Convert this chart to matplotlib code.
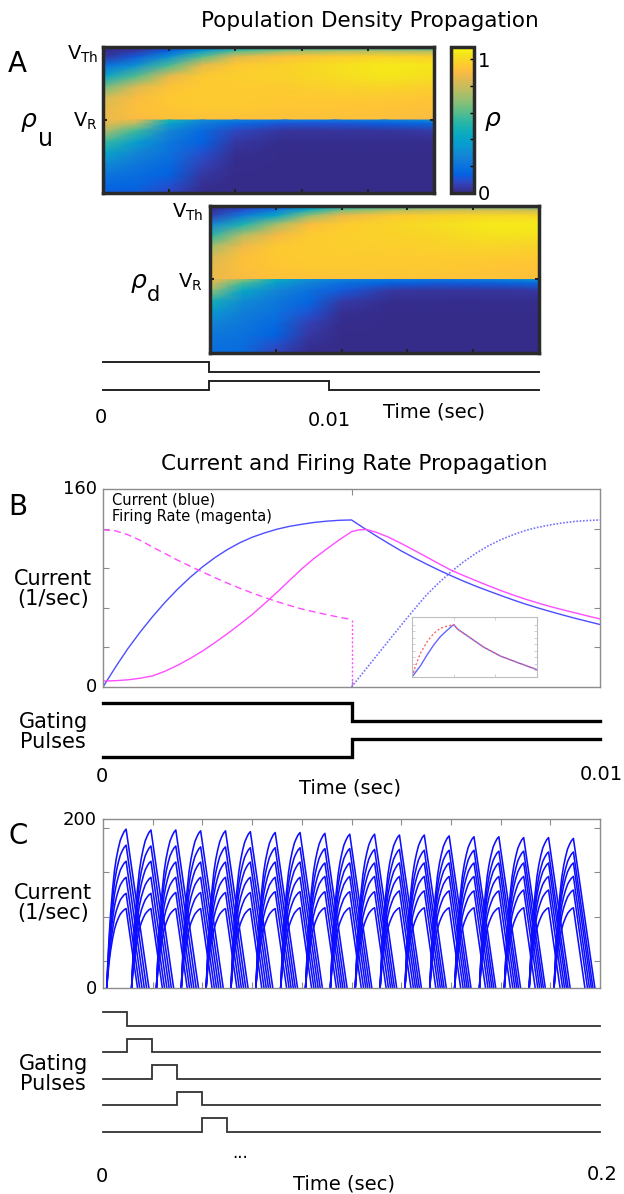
import numpy as np
import matplotlib
matplotlib.use("Agg")
import matplotlib.pyplot as plt
from matplotlib.colors import LinearSegmentedColormap

plt.rcParams["font.family"] = ["DejaVu Sans"]
plt.rcParams["mathtext.fontset"] = "dejavusans"

# ---------------- data ----------------
# parula-like colour anchors
parula_pos = [0, .032, .063, .095, .127, .19, .254, .317, .381, .444, .508, .571, .635, .698,
              .762, .825, .857, .889, .921, .952, 1.0]
parula_rgb = [(0.2081, 0.1663, 0.5292), (0.2123, 0.2138, 0.6270), (0.1959, 0.2645, 0.7279),
              (0.1253, 0.3242, 0.8303), (0.0117, 0.3875, 0.8820), (0.0498, 0.4586, 0.8641),
              (0.0793, 0.5200, 0.8312), (0.0343, 0.5966, 0.8199), (0.0228, 0.6535, 0.7768),
              (0.0843, 0.6928, 0.7062), (0.2178, 0.7250, 0.6193), (0.3953, 0.7459, 0.5244),
              (0.5709, 0.7485, 0.4494), (0.7184, 0.7411, 0.3905), (0.8507, 0.7299, 0.3360),
              (0.9739, 0.7314, 0.2666), (0.9990, 0.7653, 0.2164), (0.9880, 0.8066, 0.1794),
              (0.9697, 0.8481, 0.1475), (0.9589, 0.8949, 0.1132), (0.9763, 0.9831, 0.0538)]
RHO_MAX = 1.09

# density maps: columns = time fraction, rows = voltage level
dens_t = [0, 0.1, 0.2, 0.3, 0.4, 0.55, 0.7, 0.85, 1.0]
dens_v_up = [0, 0.15, 0.3, 0.45, 0.6, 0.75, 0.87, 0.95, 1.0]      # V_R -> V_Th
dens_depth = [0, 0.05, 0.15, 0.3, 0.45, 0.6, 0.75, 0.9, 1.0]      # V_R -> bottom

rho_u_upper = [
    [.87, .90, .92, .92, .92, .92, .92, .92, .90],
    [.86, .92, .94, .95, .95, .94, .94, .93, .92],
    [.82, .91, .95, .96, .96, .95, .95, .95, .94],
    [.64, .84, .93, .96, .96, .96, .98, .99, .97],
    [.40, .60, .86, .95, .97, .98, 1.01, 1.04, 1.02],
    [.18, .32, .58, .86, .95, .98, 1.02, 1.05, 1.04],
    [.03, .12, .32, .60, .84, .92, .96, .98, .97],
    [.01, .04, .14, .36, .58, .70, .74, .75, .73],
    [.005, .02, .08, .22, .38, .46, .48, .48, .44],
]
rho_u_lower = [
    [.87, .85, .50, .30, .25, .22, .22, .25, .30],
    [.86, .76, .40, .24, .17, .11, .11, .13, .17],
    [.76, .56, .28, .17, .08, .03, .03, .03, .05],
    [.56, .38, .22, .14, .04, .01, .01, .01, .01],
    [.42, .28, .20, .10, .02, .005, .005, .005, .005],
    [.30, .22, .17, .07, .01, .005, .005, .005, .005],
    [.21, .18, .14, .04, .005, .005, .005, .005, .005],
    [.16, .15, .10, .02, .005, .005, .005, .005, .005],
    [.13, .12, .08, .01, .005, .005, .005, .005, .005],
]
rho_d_upper = [
    [.87, .90, .92, .92, .93, .93, .93, .93, .92],
    [.86, .92, .94, .95, .95, .95, .95, .94, .93],
    [.83, .92, .95, .96, .96, .96, .96, .96, .95],
    [.72, .88, .95, .96, .97, .97, .98, .99, .98],
    [.52, .76, .89, .96, .97, .98, 1.00, 1.03, 1.03],
    [.28, .50, .73, .91, .96, .99, 1.02, 1.05, 1.05],
    [.06, .24, .42, .70, .87, .95, .98, 1.00, 1.00],
    [.02, .10, .22, .46, .64, .74, .79, .81, .79],
    [.01, .05, .13, .30, .44, .51, .55, .57, .54],
]
rho_d_lower = [
    [.87, .70, .45, .32, .26, .22, .22, .25, .32],
    [.85, .58, .38, .26, .19, .14, .12, .13, .17],
    [.70, .42, .28, .20, .12, .04, .03, .03, .04],
    [.48, .30, .22, .15, .05, .01, .01, .01, .01],
    [.35, .25, .20, .11, .02, .005, .005, .005, .005],
    [.27, .22, .17, .06, .01, .005, .005, .005, .005],
    [.22, .20, .14, .04, .005, .005, .005, .005, .005],
    [.20, .18, .09, .02, .005, .005, .005, .005, .005],
    [.18, .17, .07, .01, .005, .005, .005, .005, .005],
]

# gating pulses under panel A (time in sec)
gateA_edges = [0, 0.0047, 0.01, 0.0193]
gateA_up = [1, 0, 0]
gateA_down = [0, 1, 0]

# panel B curves
tB_first = [0, .00025, .0005, .00075, .001, .00125, .0015, .00175, .002, .00225, .0025,
            .00275, .003, .00325, .0035, .00375, .004, .00425, .0045, .00475, .005]
tB_second = [.005, .00525, .0055, .00575, .006, .00625, .0065, .00675, .007, .00725, .0075,
             .00775, .008, .00825, .0085, .00875, .009, .00925, .0095, .00975, .01]
blue_rise = [0, 16, 31, 44.5, 57, 68.5, 79, 88.5, 97, 104.5, 111, 116.5, 121, 124.5, 127.5,
             129.8, 131.5, 133, 134, 134.7, 135]
blue_decay = [135, 128.4, 122, 115.9, 110, 104.6, 99.5, 94.6, 90, 85.6, 81.5, 77.7, 74, 70.4,
              67, 63.9, 61, 58.2, 55.5, 53, 50.5]
blue_next = [0, 12.5, 25, 37.5, 50, 62.2, 74, 84, 93, 101, 108, 114, 119, 123, 126.5, 129, 131,
             132.6, 133.8, 134.5, 135]
mag_dashed = [127, 126.2, 123, 118.5, 113, 107.8, 102.5, 97.7, 93, 88.4, 84, 79.9, 76, 72.4, 69,
              65.9, 63, 60.7, 58.5, 56.4, 54.5]
mag_rise = [4.8, 5.1, 5.8, 7.1, 9, 12.8, 17.5, 23, 29, 35.8, 43, 50.6, 58.5, 67.4, 76.5, 86,
            95.5, 104, 111.5, 118.8, 125.5]
tB_mag_decay = [.005, .00515, .0053, .0055, .00575, .006, .00625, .0065, .00675, .007, .00725,
                .0075, .00775, .008, .00825, .0085, .00875, .009, .00925, .0095, .00975, .01]
mag_decay = [125.5, 127, 127.3, 125, 121, 116, 110.7, 105.3, 99.8, 94.5, 90.1, 86, 81.9, 78,
             74.4, 71, 67.9, 65, 62.4, 59.9, 57.4, 55]

# inset of panel B
ins_t_blue = [0, 0.2, 0.36, 0.52, 0.68, 0.84, 1.0]
ins_blue = [0, 0.21, 0.42, 0.61, 0.77, 0.89, 1.0]
ins_t_red = [0, 0.08, 0.2, 0.36, 0.52, 0.68, 0.84, 1.0]
ins_red = [0, 0.2, 0.45, 0.67, 0.83, 0.93, 0.97, 1.0]
ins_t_decay = [1.0, 1.1, 1.32, 1.72, 2.12, 2.52, 3.0]
ins_decay = [1.0, 0.91, 0.79, 0.57, 0.40, 0.28, 0.14]

# gating under panel B
gateB_edges = [0, 0.005, 0.01]
gateB_up = [1, 0]
gateB_down = [0, 1]

# panel C: periodic bursts of 6 currents
group_start = [0.0015, 0.0115, 0.0215, 0.0315, 0.0415, 0.0515, 0.0615, 0.0715, 0.0815, 0.0915,
               0.1015, 0.1115, 0.1215, 0.1315, 0.1415, 0.1515, 0.1615, 0.1715, 0.1815]
group_peaks = [
    [188, 169, 150, 131, 112, 94], [187, 168, 150, 131, 112, 94], [187, 168, 149, 131, 113, 94],
    [186, 167, 149, 131, 113, 94], [186, 167, 149, 131, 113, 94], [185, 166, 149, 131, 113, 94],
    [184, 166, 149, 131, 114, 94], [184, 166, 149, 131, 114, 95], [183, 165, 148, 132, 114, 95],
    [182, 165, 148, 132, 114, 95], [182, 164, 148, 132, 114, 95], [181, 164, 148, 132, 115, 95],
    [181, 163, 148, 132, 115, 95], [180, 163, 148, 132, 115, 95], [179, 163, 148, 132, 115, 95],
    [179, 162, 148, 132, 115, 95], [178, 162, 148, 132, 116, 95], [178, 161, 148, 132, 116, 95],
    [177, 161, 148, 132, 116, 95],
]
rise_time = 0.0078
rise_s = [0, .05, .1, .15, .2, .3, .4, .5, .6, .7, .8, .9, 1.0]
rise_shape = [0, 0.14, 0.27, 0.375, 0.47, 0.62, 0.74, 0.82, 0.88, 0.93, 0.96, 0.985, 1.0]
decay_slope = 20500.0   # 1/sec per sec

# gating under panel C
gateC_edges = [0, 0.0097, 0.0196, 0.0298, 0.0398, 0.0498]

# ---------------- figure ----------------
W, H = 624, 1194
fig = plt.figure(figsize=(W / 100, H / 100), dpi=100)
parula = LinearSegmentedColormap.from_list("parula", list(zip(parula_pos, parula_rgb)))


def px_axes(l, t, r, b):
    return fig.add_axes([l / W, 1 - b / H, (r - l) / W, (b - t) / H])


def px_text(x, y, s, **kw):
    fig.text(x / W, 1 - y / H, s, **kw)


def step_line(ax, edges, states, base, h, **kw):
    ys = [base + h * s for s in states]
    ax.plot(edges, ys + [ys[-1]], drawstyle="steps-post", clip_on=False,
            solid_joinstyle="miter", **kw)


def density_axes(l, t, r, b, upper, lower):
    ax = px_axes(l, t, r, b)
    ax.pcolormesh(dens_t, dens_v_up, np.array(upper), shading="gouraud",
                  cmap=parula, vmin=0, vmax=RHO_MAX)
    ax.pcolormesh(dens_t, -np.array(dens_depth), np.array(lower), shading="gouraud",
                  cmap=parula, vmin=0, vmax=RHO_MAX)
    ax.set_xlim(0, 1)
    ax.set_ylim(-1, 1)
    ax.set_xticks([0.2, 0.4, 0.6, 0.8])
    ax.set_yticks([0])
    ax.tick_params(direction="in", length=3, width=1.5, color="#222222", top=True,
                   right=True, labelbottom=False, labelleft=False)
    for s in ax.spines.values():
        s.set_linewidth(2.5)
        s.set_color("#2a2a2a")
    return ax


def gray_frame(ax):
    for s in ax.spines.values():
        s.set_color("#8c8c8c")
        s.set_linewidth(1.0)
    ax.tick_params(direction="in", length=4, width=0.8, color="#8c8c8c",
                   top=True, right=True, labelbottom=False, labelleft=False)


# ---- panel A ----
px_text(370, 21, "Population Density Propagation", fontsize=15.5, ha="center", va="center")
px_text(8, 64, "A", fontsize=20, ha="left", va="center")

density_axes(103, 47, 434, 193, rho_u_upper, rho_u_lower)
density_axes(210, 206, 539, 353, rho_d_upper, rho_d_lower)

cax = px_axes(451, 47, 474, 193)
sm = plt.cm.ScalarMappable(cmap=parula, norm=plt.Normalize(0, RHO_MAX))
cb = fig.colorbar(sm, cax=cax, ticks=[0, .2, .4, .6, .8, 1.0])
cb.set_ticklabels(["0", "", "", "", "", "1"])
cb.ax.tick_params(direction="in", length=3, width=1, labelsize=14, pad=3)
cb.outline.set_linewidth(2.5)
cb.outline.set_edgecolor("#2a2a2a")
px_text(493, 121, r"$\rho$", fontsize=18, ha="center", va="center")

px_text(98, 60, r"$\mathregular{V_{Th}}$", fontsize=14, ha="right", va="baseline")
px_text(98, 127, r"$\mathregular{V_{R}}$", fontsize=14, ha="right", va="baseline")
px_text(29, 122, r"$\rho$", fontsize=18, ha="center", va="center")
px_text(46, 139, "u", fontsize=17, ha="center", va="center")

px_text(203, 218, r"$\mathregular{V_{Th}}$", fontsize=14, ha="right", va="baseline")
px_text(203, 288, r"$\mathregular{V_{R}}$", fontsize=14, ha="right", va="baseline")
px_text(139, 283, r"$\rho$", fontsize=18, ha="center", va="center")
px_text(153, 295, "d", fontsize=15, ha="center", va="center")

gA = px_axes(103, 362.4, 539, 390)
gA.set_xlim(0, gateA_edges[-1])
gA.set_ylim(0, 1.51)
gA.axis("off")
step_line(gA, gateA_edges, gateA_up, 1.0, 0.51, color="#222222", lw=1.4)
step_line(gA, gateA_edges, gateA_down, 0.0, 0.51, color="#222222", lw=1.4)
px_text(101, 418, "0", fontsize=14, ha="center", va="center")
px_text(329, 420, "0.01", fontsize=14, ha="center", va="center")
px_text(434, 412, "Time (sec)", fontsize=14, ha="center", va="center")

# ---- panel B ----
px_text(354, 464, "Current and Firing Rate Propagation", fontsize=15.5, ha="center", va="center")
px_text(8, 507, "B", fontsize=20, ha="left", va="center")

axB = px_axes(103, 489, 600, 687)
blue_c = (0.3, 0.3, 1.0)
mag_c = (1.0, 0.3, 1.0)
axB.plot(tB_first + tB_second[1:], blue_rise + blue_decay[1:], color=blue_c, lw=1.0)
axB.plot(tB_second, blue_next, color=(0.45, 0.45, 1.0), lw=1.2, ls=(0, (1, 1)))
axB.plot(tB_first, mag_dashed, color=mag_c, lw=1.0, ls=(0, (5, 3)))
axB.plot([tB_first[-1], tB_first[-1]], [mag_dashed[-1], 0], color=mag_c, lw=1.0, ls=(0, (1.5, 1.5)))
axB.plot(tB_first + tB_mag_decay[1:], mag_rise + mag_decay[1:], color=mag_c, lw=1.0)
axB.set_xlim(0, 0.01)
axB.set_ylim(0, 160)
axB.set_yticks([32, 64, 96, 128])
axB.set_xticks([0.005])
gray_frame(axB)
px_text(97, 489, "160", fontsize=13, ha="right", va="center")
px_text(97, 687, "0", fontsize=13, ha="right", va="center")
px_text(53, 589, "Current\n(1/sec)", fontsize=15, ha="center", va="center", linespacing=1.05)
px_text(112, 500, "Current (blue)", fontsize=10.5, ha="left", va="center")
px_text(112, 517, "Firing Rate (magenta)", fontsize=10.5, ha="left", va="center")

ins = px_axes(412, 617, 537, 677)
ins.plot(ins_t_blue + ins_t_decay[1:], ins_blue + ins_decay[1:], color=(0.4, 0.4, 1.0), lw=1.0)
ins.plot(ins_t_red + ins_t_decay[1:], ins_red + ins_decay[1:], color=(1.0, 0.4, 0.4), lw=1.0,
         ls=(0, (1.5, 1.5)))
ins.set_xlim(0, 3)
ins.set_ylim(0, 1.145)
ins.set_xticks([1, 2])
ins.set_yticks([0.125, 0.25, 0.375, 0.5, 0.625, 0.75, 0.875, 1.0])
for s in ins.spines.values():
    s.set_color("#bdbdbd")
    s.set_linewidth(0.8)
ins.tick_params(direction="in", length=2, width=0.5, color="#bdbdbd", top=True, right=True,
                labelbottom=False, labelleft=False)

gB = px_axes(103, 703, 600, 757)
gB.set_xlim(0, 0.01)
gB.set_ylim(0, 1.5)
gB.axis("off")
step_line(gB, gateB_edges, gateB_up, 1.0, 0.5, color="black", lw=2.4)
step_line(gB, gateB_edges, gateB_down, 0.0, 0.5, color="black", lw=2.4)
px_text(53, 732, "Gating\nPulses", fontsize=15, ha="center", va="center", linespacing=1.05)
px_text(102, 776, "0", fontsize=14, ha="center", va="center")
px_text(601, 775, "0.01", fontsize=14, ha="center", va="center")
px_text(350, 788, "Time (sec)", fontsize=14, ha="center", va="center")

# ---- panel C ----
px_text(8, 836, "C", fontsize=20, ha="left", va="center")
axC = px_axes(103, 819, 600, 988)
for start, peaks in zip(group_start, group_peaks):
    t_peak = start + rise_time
    t_r = [start + s * rise_time for s in rise_s]
    for p in peaks:
        v_r = [p * f for f in rise_shape]
        axC.plot(t_r + [t_peak + p / decay_slope], v_r + [0], color=(0.05, 0.05, 1.0), lw=1.15)
axC.set_xlim(0, 0.2)
axC.set_ylim(0, 200)
axC.set_xticks([0.02, 0.04, 0.06, 0.08, 0.10, 0.12, 0.14, 0.16, 0.18])
axC.set_yticks([32, 84, 137, 189])
gray_frame(axC)
px_text(97, 820, "200", fontsize=13, ha="right", va="center")
px_text(97, 989, "0", fontsize=13, ha="right", va="center")
px_text(53, 903, "Current\n(1/sec)", fontsize=15, ha="center", va="center", linespacing=1.05)

gC = px_axes(103, 1012.3, 600, 1131.7)
gC.set_xlim(0, 0.2)
gC.set_ylim(-4, 0.52)
gC.axis("off")
for k in range(5):
    if k == 0:
        edges, states = [0, gateC_edges[1], 0.2], [1, 0]
    else:
        edges, states = [0, gateC_edges[k], gateC_edges[k + 1], 0.2], [0, 1, 0]
    step_line(gC, edges, states, -k, 0.52, color="#333333", lw=1.3)
px_text(53, 1074, "Gating\nPulses", fontsize=15, ha="center", va="center", linespacing=1.05)
px_text(240, 1153, "...", fontsize=12, ha="center", va="center")
px_text(102, 1177, "0", fontsize=14, ha="center", va="center")
px_text(602, 1175, "0.2", fontsize=14, ha="center", va="center")
px_text(344, 1184, "Time (sec)", fontsize=14, ha="center", va="center")

fig.savefig("out.png", dpi=100)
